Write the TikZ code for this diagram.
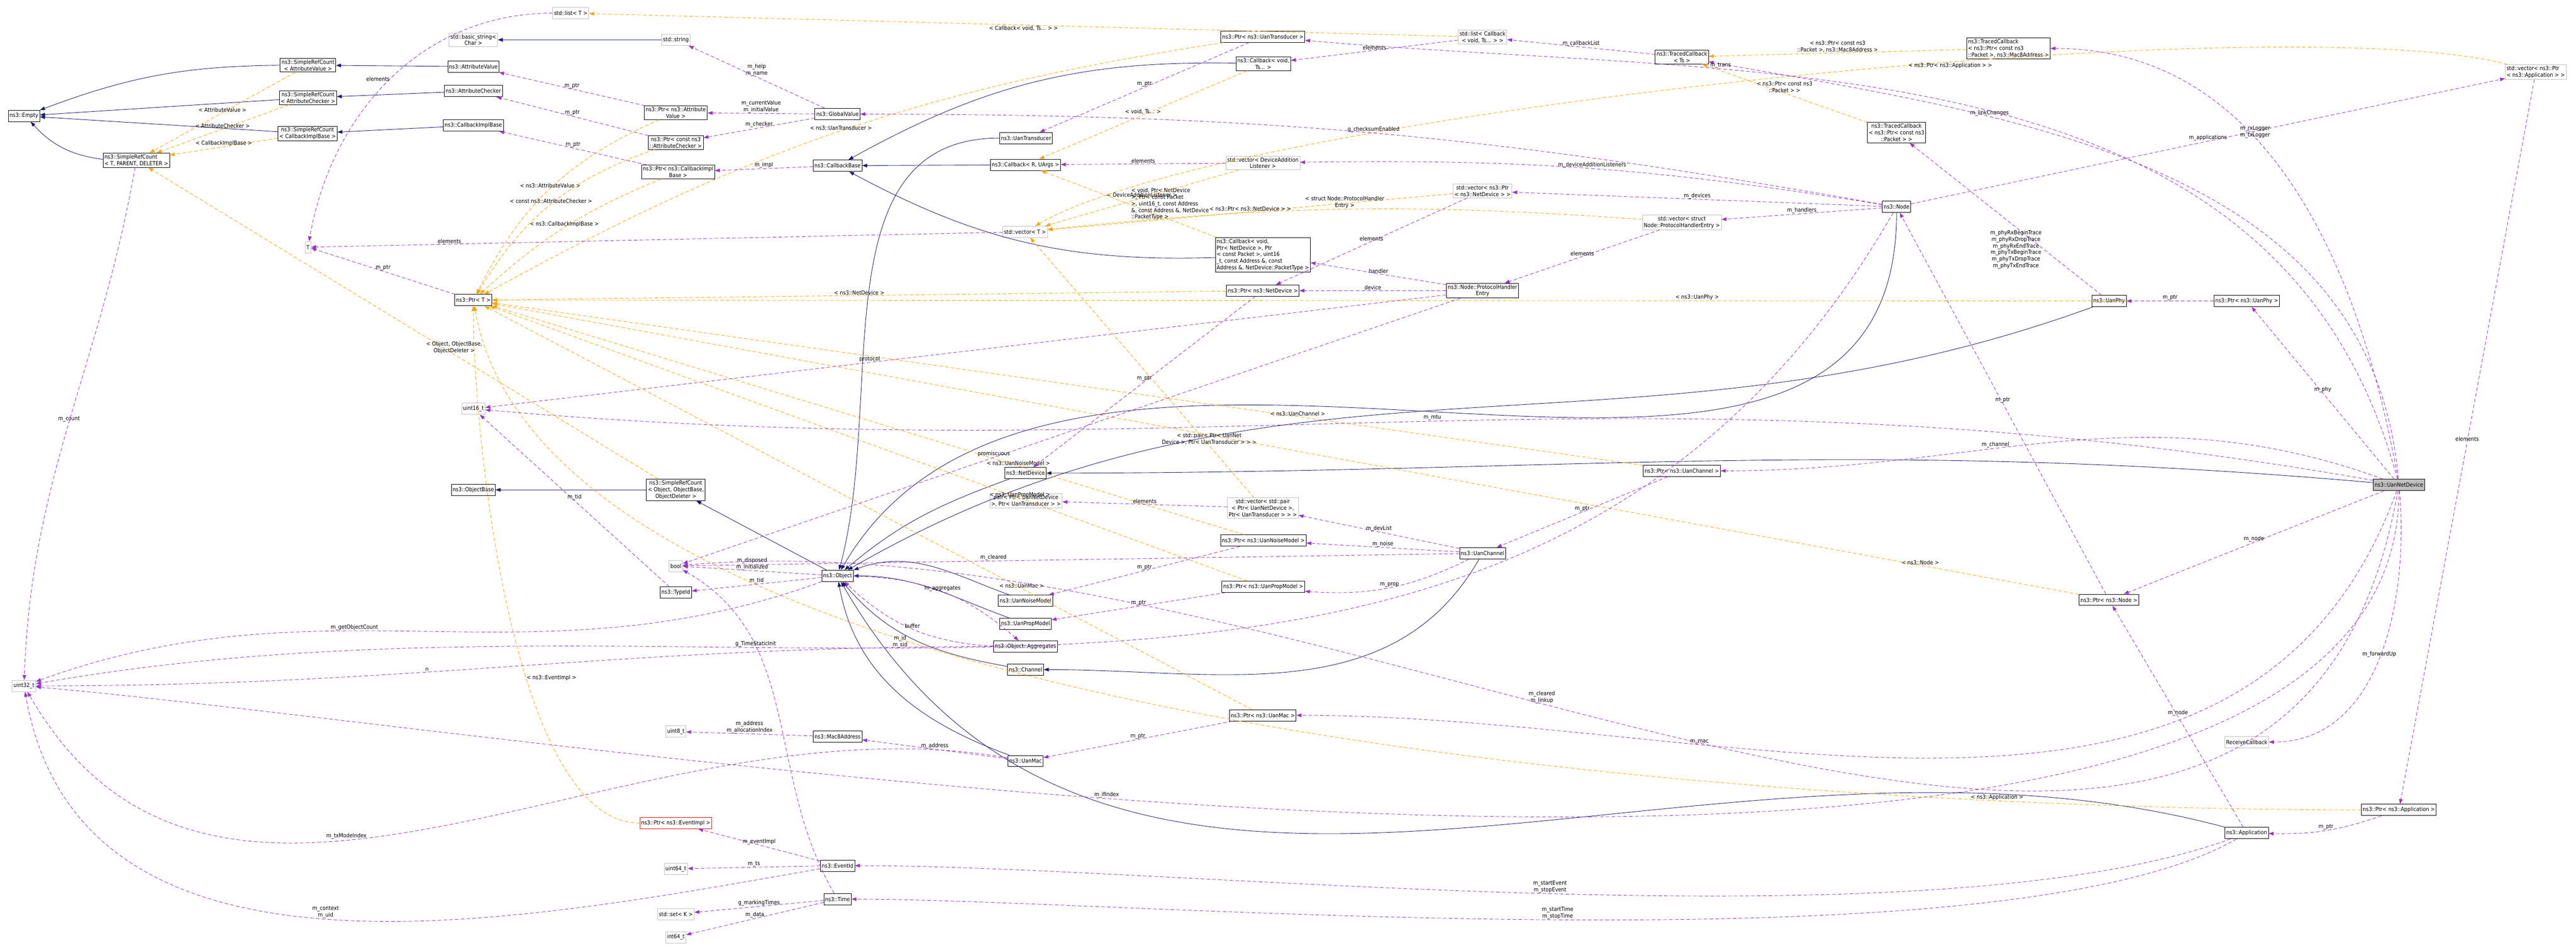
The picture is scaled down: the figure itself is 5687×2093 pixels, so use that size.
\documentclass[tikz,border=0pt]{standalone}
\usepackage{fontspec}
\setmainfont{DejaVu Sans Condensed}
\usetikzlibrary{arrows.meta}
\definecolor{inhcol}{HTML}{191970}
\definecolor{usecol}{HTML}{9A32CD}
\definecolor{tplcol}{HTML}{FFA500}
\definecolor{extcol}{HTML}{BFBFBF}

\begin{document}
\begin{tikzpicture}[
    x=0.1pt, y=-0.1pt,
    every node/.style={font=\fontsize{1.24}{1.46}\selectfont},
    cls/.style={draw=black, fill=white, line width=0.1pt, align=center, inner sep=0.3pt, minimum height=2.5pt},
    ext/.style={cls, draw=extcol},
    cur/.style={cls, fill=extcol},
    bad/.style={cls, draw=red},
    tip/.style={-{Triangle[length=1.1pt, width=0.8pt]}},
    inh/.style={draw=inhcol, line width=0.1pt, tip},
    use/.style={draw=usecol, dash pattern=on 0.8pt off 0.48pt, line width=0.1pt, tip},
    tpl/.style={draw=tplcol, dash pattern=on 0.8pt off 0.48pt, line width=0.1pt, tip},
    lbl/.style={midway, inner sep=0.1pt, align=center, above}
]
\useasboundingbox[fill=white] (0,0) rectangle (5687,2093);
% classes
\node[cls] (empty) at (53,256) {ns3::Empty};
\node[cls] (srcAV) at (680,144) {ns3::SimpleRefCount\\< AttributeValue >};
\node[cls] (srcAC) at (680,216) {ns3::SimpleRefCount\\< AttributeChecker >};
\node[cls] (srcCB) at (679,295) {ns3::SimpleRefCount\\< CallbackImplBase >};
\node[cls, align=left] (srcT) at (301,354) {ns3::SimpleRefCount\\< T, PARENT, DELETER >};
\node[ext] (lstT) at (1260,29) {std::list< T >};
\node[ext] (bstr) at (1045,88) {std::basic\_string<\\Char >};
\node[cls] (attrV) at (1045,147) {ns3::AttributeValue};
\node[cls] (attrC) at (1045,201) {ns3::AttributeChecker};
\node[cls] (cbImpl) at (1045,277) {ns3::CallbackImplBase};
\node[ext] (tT) at (680,546) {T};
\node[cls] (ptrT) at (1045,663) {ns3::Ptr< T >};
\node[ext] (u16) at (1045,903) {uint16\_t};
\node[ext] (str) at (1492,88) {std::string};
\node[cls] (ptrAV) at (1492,249) {ns3::Ptr< ns3::Attribute\\Value >};
\node[cls] (glob) at (1849,252) {ns3::GlobalValue};
\node[cls] (ptrAC) at (1492,315) {ns3::Ptr< const ns3\\::AttributeChecker >};
\node[cls] (ptrCI) at (1497,380) {ns3::Ptr< ns3::CallbackImpl\\Base >};
\node[cls] (cbBase) at (1849,366) {ns3::CallbackBase};
\node[cls] (trans) at (2265,305) {ns3::UanTransducer};
\node[cls] (cbR) at (2264,364) {ns3::Callback< R, UArgs >};
\node[ext] (vecT) at (2263,512) {std::vector< T >};
\node[cls] (ptrTr) at (2788,81) {ns3::Ptr< ns3::UanTransducer >};
\node[cls] (cbVoid) at (2789,141) {ns3::Callback< void,\\Ts... >};
\node[ext] (vecDAL) at (2788,360) {std::vector< DeviceAddition\\Listener >};
\node[cls, align=left] (cbND) at (2788,563) {ns3::Callback< void,\\ Ptr< NetDevice >, Ptr\\< const Packet >, uint16\\\_t, const Address \&, const\\ Address \&, NetDevice::PacketType >};
\node[cls] (ptrND) at (2788,642) {ns3::Ptr< ns3::NetDevice >};
\node[cls] (netdev) at (2264,1045) {ns3::NetDevice};
\node[ext] (lstCb) at (3273,82) {std::list< Callback\\< void, Ts... > >};
\node[cls] (tcTs) at (3713,126) {ns3::TracedCallback\\< Ts >};
\node[cls] (tcPkt) at (4187,293) {ns3::TracedCallback\\< ns3::Ptr< const ns3\\::Packet > >};
\node[ext] (vecND) at (3273,422) {std::vector< ns3::Ptr\\< ns3::NetDevice > >};
\node[cls] (node) at (4187,457) {ns3::Node};
\node[ext] (vecPH) at (3713,491) {std::vector< struct\\Node::ProtocolHandlerEntry >};
\node[cls] (phe) at (3273,642) {ns3::Node::ProtocolHandler\\Entry};
\node[cls] (ptrCh) at (3713,1040) {ns3::Ptr< ns3::UanChannel >};
\node[cls, align=left] (tcMac) at (4434,107) {ns3::TracedCallback\\< ns3::Ptr< const ns3\\::Packet >, ns3::Mac8Address >};
\node[ext, align=left] (vecApp) at (5598,159) {std::vector< ns3::Ptr\\< ns3::Application > >};
\node[cls] (phy) at (4656,665) {ns3::UanPhy};
\node[cls] (ptrPhy) at (4960,665) {ns3::Ptr< ns3::UanPhy >};
\node[cls] (objBase) at (1045,1082) {ns3::ObjectBase};
\node[ext] (u32) at (53,1515) {uint32\_t};
\node[cls] (srcObj) at (1492,1082) {ns3::SimpleRefCount\\< Object, ObjectBase,\\ObjectDeleter >};
\node[ext] (pair) at (2265,1106) {pair< Ptr< UanNetDevice\\>, Ptr< UanTransducer > >};
\node[ext] (vecPair) at (2788,1122) {std::vector< std::pair\\< Ptr< UanNetDevice >,\\Ptr< UanTransducer > > >};
\node[cls] (ptrNoise) at (2789,1194) {ns3::Ptr< ns3::UanNoiseModel >};
\node[ext] (bool) at (1492,1250) {bool};
\node[cls] (obj) at (1849,1272) {ns3::Object};
\node[cls] (typeId) at (1492,1309) {ns3::TypeId};
\node[cls] (noise) at (2264,1327) {ns3::UanNoiseModel};
\node[cls] (ptrProp) at (2789,1296) {ns3::Ptr< ns3::UanPropModel >};
\node[cls] (prop) at (2264,1378) {ns3::UanPropModel};
\node[cls] (aggr) at (2264,1428) {ns3::Object::Aggregates};
\node[cls] (chan) at (2264,1479) {ns3::Channel};
\node[cls] (ptrMac) at (2788,1580) {ns3::Ptr< ns3::UanMac >};
\node[ext] (u8) at (1492,1616) {uint8\_t};
\node[cls] (mac8) at (1849,1627) {ns3::Mac8Address};
\node[cls] (mac) at (2264,1681) {ns3::UanMac};
\node[bad] (ptrEv) at (1492,1818) {ns3::Ptr< ns3::EventImpl >};
\node[cls] (evId) at (1849,1912) {ns3::EventId};
\node[ext] (u64) at (1492,1919) {uint64\_t};
\node[cls] (time) at (1849,1986) {ns3::Time};
\node[ext] (setK) at (1492,2019) {std::set< K >};
\node[ext] (i64) at (1492,2070) {int64\_t};
\node[cls] (uanCh) at (3273,1222) {ns3::UanChannel};
\node[cur] (dev) at (5296,1071) {ns3::UanNetDevice};
\node[cls] (ptrNode) at (4656,1325) {ns3::Ptr< ns3::Node >};
\node[ext] (recv) at (4960,1639) {ReceiveCallback};
\node[cls] (ptrApp) at (5296,1789) {ns3::Ptr< ns3::Application >};
\node[cls] (app) at (4960,1840) {ns3::Application};
% inheritance
\draw[inh] (srcAV) to[bend right=10] (empty);
\draw[inh] (srcAC) -- (empty);
\draw[inh] (srcCB) -- (empty);
\draw[inh] (srcT) to[bend left=20] (empty);
\draw[inh] (attrV) -- (srcAV);
\draw[inh] (attrC) -- (srcAC);
\draw[inh] (cbImpl) -- (srcCB);
\draw[inh] (str) -- (bstr);
\draw[inh] (cbVoid) to[bend right=15] (cbBase);
\draw[inh] (cbR) -- (cbBase);
\draw[inh] (cbND) to[bend left=15] (cbBase);
\draw[inh] (srcObj) -- (objBase);
\draw[inh] (obj) -- (srcObj);
\draw[inh] (trans) to[out=180, in=75] (obj);
\draw[inh] (netdev) to[out=200, in=40] (obj);
\draw[inh] (noise) to[out=160, in=20] (obj);
\draw[inh] (prop) to[out=160, in=0] (obj);
\draw[inh] (chan) to[out=170, in=-50] (obj);
\draw[inh] (mac) to[out=160, in=-80] (obj);
\draw[inh] (node) to[out=-90, in=60] (obj);
\draw[inh] (phy) to[out=200, in=30] (obj);
\draw[inh] (uanCh) to[out=-120, in=0] (chan);
\draw[inh] (dev) to[out=175, in=0] (netdev);
\draw[inh] (app) to[out=165, in=-60] (obj);
% templates
\draw[tpl] (srcAV) -- node[lbl]{< AttributeValue >} (srcT);
\draw[tpl] (srcAC) -- node[lbl]{< AttributeChecker >} (srcT);
\draw[tpl] (srcCB) -- node[lbl]{< CallbackImplBase >} (srcT);
\draw[tpl] (srcObj) -- node[lbl, pos=0.4]{< Object, ObjectBase,\\ObjectDeleter >} (srcT);
\draw[tpl] (ptrAV) to[bend right=20] node[lbl]{< ns3::AttributeValue >} (ptrT);
\draw[tpl] (ptrAC) to[bend right=20] node[lbl]{< const ns3::AttributeChecker >} (ptrT);
\draw[tpl] (ptrCI) to[bend right=10] node[lbl]{< ns3::CallbackImplBase >} (ptrT);
\draw[tpl] (ptrTr) to[bend right=10] node[lbl]{< ns3::UanTransducer >} (ptrT);
\draw[tpl] (ptrND) -- node[lbl]{< ns3::NetDevice >} (ptrT);
\draw[tpl] (ptrCh) -- node[lbl, pos=0.3]{< ns3::UanChannel >} (ptrT);
\draw[tpl] (ptrNoise) -- node[lbl, pos=0.3]{< ns3::UanNoiseModel >} (ptrT);
\draw[tpl] (ptrProp) -- node[lbl, pos=0.3]{< ns3::UanPropModel >} (ptrT);
\draw[tpl] (ptrMac) -- node[lbl, pos=0.3]{< ns3::UanMac >} (ptrT);
\draw[tpl] (ptrNode) -- node[lbl, pos=0.1]{< ns3::Node >} (ptrT);
\draw[tpl] (ptrPhy) -- node[lbl, pos=0.3]{< ns3::UanPhy >} (ptrT);
\draw[tpl] (ptrApp) to[out=180, in=-80, looseness=0.6] node[lbl, pos=0.2]{< ns3::Application >} (ptrT);
\draw[tpl] (ptrEv) to[out=180, in=-90, looseness=0.6] node[lbl, pos=0.4, right]{< ns3::EventImpl >} (ptrT);
\draw[tpl] (lstCb) -- node[lbl, below]{< Callback< void, Ts... > >} (lstT);
\draw[tpl] (cbVoid) -- node[lbl]{< void, Ts... >} (cbR);
\draw[tpl] (cbND) -- node[lbl, align=left, right=0.4pt]{< void, Ptr< NetDevice\\>, Ptr< const Packet\\>, uint16\_t, const Address\\\&, const Address \&, NetDevice\\::PacketType >} (cbR);
\draw[tpl] (vecDAL) -- node[lbl]{< DeviceAdditionListener >} (vecT);
\draw[tpl] (vecND) -- node[lbl]{< ns3::Ptr< ns3::NetDevice > >} (vecT);
\draw[tpl] (vecPH) to[bend right=5] node[lbl]{< struct Node::ProtocolHandler\\Entry >} (vecT);
\draw[tpl] (vecPair) -- node[lbl, pos=0.2]{< std::pair< Ptr< UanNet\\Device >, Ptr< UanTransducer > > >} (vecT);
\draw[tpl] (vecApp) to[out=165, in=30, looseness=0.4] node[lbl, pos=0.4, below]{< ns3::Ptr< ns3::Application > >} (vecT);
\draw[tpl] (tcMac) -- node[lbl]{< ns3::Ptr< const ns3\\::Packet >, ns3::Mac8Address >} (tcTs);
\draw[tpl] (tcPkt) -- node[lbl]{< ns3::Ptr< const ns3\\::Packet > >} (tcTs);
% members
\draw[use] (lstT) to[out=180, in=80] node[lbl, left]{elements} (tT);
\draw[use] (vecT) -- node[lbl, pos=0.8]{elements} (tT);
\draw[use] (ptrT) -- node[lbl]{m\_ptr} (tT);
\draw[use] (ptrAV) -- node[lbl]{m\_ptr} (attrV);
\draw[use] (ptrAC) -- node[lbl]{m\_ptr} (attrC);
\draw[use] (ptrCI) -- node[lbl]{m\_ptr} (cbImpl);
\draw[use] (glob) -- node[lbl]{m\_help\\m\_name} (str);
\draw[use] (glob) -- node[lbl]{m\_currentValue\\m\_initialValue} (ptrAV);
\draw[use] (glob) -- node[lbl]{m\_checker} (ptrAC);
\draw[use] (cbBase) -- node[lbl]{m\_impl} (ptrCI);
\draw[use] (ptrTr) -- node[lbl]{m\_ptr} (trans);
\draw[use] (lstCb) -- node[lbl]{elements} (cbVoid);
\draw[use] (tcTs) -- node[lbl]{m\_callbackList} (lstCb);
\draw[use] (vecDAL) -- node[lbl]{elements} (cbR);
\draw[use] (node) to[bend right=5] node[lbl]{m\_deviceAdditionListeners} (vecDAL);
\draw[use] (node) -- node[lbl]{m\_devices} (vecND);
\draw[use] (node) -- node[lbl]{m\_handlers} (vecPH);
\draw[use] (vecND) -- node[lbl]{elements} (ptrND);
\draw[use] (vecPH) -- node[lbl]{elements} (phe);
\draw[use] (phe) -- node[lbl]{handler} (cbND);
\draw[use] (phe) -- node[lbl]{device} (ptrND);
\draw[use] (phe) -- node[lbl, pos=0.6]{protocol} (u16);
\draw[use] (phe) -- node[lbl, pos=0.6]{promiscuous} (bool);
\draw[use] (ptrND) -- node[lbl]{m\_ptr} (netdev);
\draw[use] (node) to[out=-120, in=10] node[lbl, pos=0.6]{m\_id\\m\_sid} (u32);
\draw[use] (node) to[bend right=5] node[lbl]{g\_checksumEnabled} (glob);
\draw[use] (node) -- node[lbl]{m\_applications} (vecApp);
\draw[use] (typeId) -- node[lbl]{m\_tid} (u16);
\draw[use] (obj) -- node[lbl]{m\_tid} (typeId);
\draw[use] (obj) -- node[lbl]{m\_disposed\\m\_initialized} (bool);
\draw[use] (obj) to[bend left=20] node[lbl]{m\_aggregates} (aggr);
\draw[use] (aggr) to[bend left=20] node[lbl]{buffer} (obj);
\draw[use] (aggr) to[out=180, in=0] node[lbl, pos=0.6]{n} (u32);
\draw[use] (obj) to[out=200, in=20] node[lbl, pos=0.6]{m\_getObjectCount} (u32);
\draw[use] (srcT) to[out=-100, in=88] node[lbl]{m\_count} (u32);
\draw[use] (time) to[out=120, in=-30] node[lbl, pos=0.7]{g\_TimeStaticInit} (bool);
\draw[use] (time) -- node[lbl]{g\_markingTimes} (setK);
\draw[use] (time) -- node[lbl]{m\_data} (i64);
\draw[use] (evId) -- node[lbl]{m\_eventImpl} (ptrEv);
\draw[use] (evId) -- node[lbl]{m\_ts} (u64);
\draw[use] (evId) to[out=190, in=-80] node[lbl, pos=0.5]{m\_context\\m\_uid} (u32);
\draw[use] (mac8) -- node[lbl]{m\_address\\m\_allocationIndex} (u8);
\draw[use] (mac) -- node[lbl]{m\_address} (mac8);
\draw[use] (mac) to[out=170, in=-60] node[lbl, pos=0.6]{m\_txModeIndex} (u32);
\draw[use] (uanCh) -- node[lbl]{m\_devList} (vecPair);
\draw[use] (uanCh) -- node[lbl]{m\_noise} (ptrNoise);
\draw[use] (uanCh) to[bend left=15] node[lbl]{m\_prop} (ptrProp);
\draw[use] (uanCh) -- node[lbl, pos=0.6]{m\_cleared} (bool);
\draw[use] (vecPair) -- node[lbl]{elements} (pair);
\draw[use] (ptrCh) -- node[lbl]{m\_ptr} (uanCh);
\draw[use] (ptrNoise) -- node[lbl]{m\_ptr} (noise);
\draw[use] (ptrProp) -- node[lbl]{m\_ptr} (prop);
\draw[use] (ptrMac) -- node[lbl]{m\_ptr} (mac);
\draw[use] (ptrNode) -- node[lbl]{m\_ptr} (node);
\draw[use] (ptrPhy) -- node[lbl]{m\_ptr} (phy);
\draw[use] (ptrApp) to[bend left=10] node[lbl]{m\_ptr} (app);
\draw[use] (vecApp) -- node[lbl]{elements} (ptrApp);
\draw[use] (app) -- node[lbl]{m\_node} (ptrNode);
\draw[use] (app) to[out=-160, in=0, looseness=0.6] node[lbl, pos=0.5]{m\_startEvent\\m\_stopEvent} (evId);
\draw[use] (app) to[out=-150, in=0, looseness=0.5] node[lbl, pos=0.5]{m\_startTime\\m\_stopTime} (time);
\draw[use] (phy) -- node[lbl, pos=0.3, left=0.4pt]{m\_phyRxBeginTrace\\m\_phyRxDropTrace\\m\_phyRxEndTrace\\m\_phyTxBeginTrace\\m\_phyTxDropTrace\\m\_phyTxEndTrace} (tcPkt);
\draw[use] (dev) to[out=100, in=0] node[lbl, pos=0.6]{m\_rxLogger\\m\_txLogger} (tcMac);
\draw[use] (dev) to[out=95, in=-10] node[lbl, pos=0.7]{m\_linkChanges} (tcTs);
\draw[use] (dev) to[out=105, in=-5] node[lbl, pos=0.7]{m\_trans} (ptrTr);
\draw[use] (dev) -- node[lbl]{m\_phy} (ptrPhy);
\draw[use] (dev) to[out=160, in=0] node[lbl, pos=0.6]{m\_channel} (ptrCh);
\draw[use] (dev) to[out=170, in=-5] node[lbl, pos=0.5]{m\_mtu} (u16);
\draw[use] (dev) -- node[lbl]{m\_node} (ptrNode);
\draw[use] (dev) to[out=-110, in=0] node[lbl, pos=0.7]{m\_mac} (ptrMac);
\draw[use] (dev) to[out=-100, in=5] node[lbl, pos=0.6]{m\_cleared\\m\_linkup} (bool);
\draw[use] (dev) to[out=-85, in=0] node[lbl, pos=0.5]{m\_forwardUp} (recv);
\draw[use] (dev) to[out=-90, in=-5, looseness=0.6] node[lbl, pos=0.6]{m\_ifIndex} (u32);
\end{tikzpicture}
\end{document}
